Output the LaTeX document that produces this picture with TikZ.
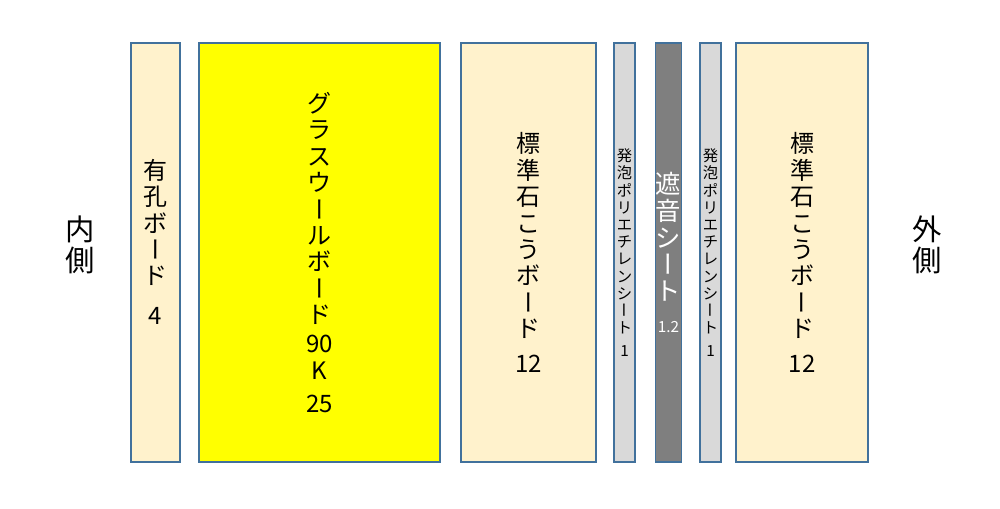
\documentclass[tikz,border=0pt]{standalone}
\usepackage{fontspec}
\usepackage{graphicx}
\setmainfont{Noto Sans CJK JP}
\usetikzlibrary{positioning}

\definecolor{boardfill}{HTML}{FFF2CC}
\definecolor{edgeblue}{HTML}{41719C}
\definecolor{sheetgray}{HTML}{D9D9D9}
\definecolor{darksheet}{HTML}{7F7F7F}
\definecolor{woolyellow}{HTML}{FFFF00}

% long vowel mark for vertical text
\newcommand{\cho}{\rotatebox[origin=c]{-90}{\rule[-0.12em]{0pt}{1em}ー}}

\tikzset{
  layer/.style={draw=edgeblue, line width=0.8pt, minimum height=314.25pt,
    inner sep=0pt, align=center, font=\fontsize{18}{19.8}\selectfont},
  thin/.style={layer, font=\fontsize{11.5}{12.9}\selectfont},
  side/.style={align=center, font=\fontsize{22}{23.5}\selectfont}
}

\begin{document}
\begin{tikzpicture}[x=0.75pt, y=-0.75pt]
    \useasboundingbox (0,0) rectangle (1000,509);

    \node[layer, fill=boardfill, minimum width=36.75pt] (yuko) at (155.5,252.5)
        {有\\孔\\ボ\\\cho\\ド\\[10pt]4\\[-4pt]\rule{0pt}{9pt}};
    \node[layer, fill=woolyellow, minimum width=180.75pt] (glass) at (319.5,252.5)
        {グ\\ラ\\ス\\ウ\\\cho\\ル\\ボ\\\cho\\ド\\[2pt]90\\K\\[5pt]25};
    \node[layer, fill=boardfill, minimum width=101.25pt] (gyp1) at (528.5,252.5)
        {標\\準\\石\\こ\\う\\ボ\\\cho\\ド\\[6pt]12};
    \node[thin, fill=sheetgray, minimum width=15.75pt] (foam1) at (624.5,252.5)
        {発\\泡\\ポ\\リ\\エ\\チ\\レ\\ン\\シ\\\cho\\ト\\[4pt]1};
    \node[layer, fill=darksheet, text=white, minimum width=18.75pt,
        font=\fontsize{19}{20}\selectfont] (shaon) at (668.5,252.5)
        {遮\\音\\シ\\\cho\\ト\\[4pt]{\fontsize{11.5}{12}\selectfont 1.2}};
    \node[thin, fill=sheetgray, minimum width=15.75pt] (foam2) at (710.5,252.5)
        {発\\泡\\ポ\\リ\\エ\\チ\\レ\\ン\\シ\\\cho\\ト\\[4pt]1};
    \node[layer, fill=boardfill, minimum width=99pt] (gyp2) at (802,252.5)
        {標\\準\\石\\こ\\う\\ボ\\\cho\\ド\\[6pt]12};

    \node[side] (inner) at (80,245) {内\\側};
    \node[side] (outer) at (927,245) {外\\側};
\end{tikzpicture}
\end{document}
